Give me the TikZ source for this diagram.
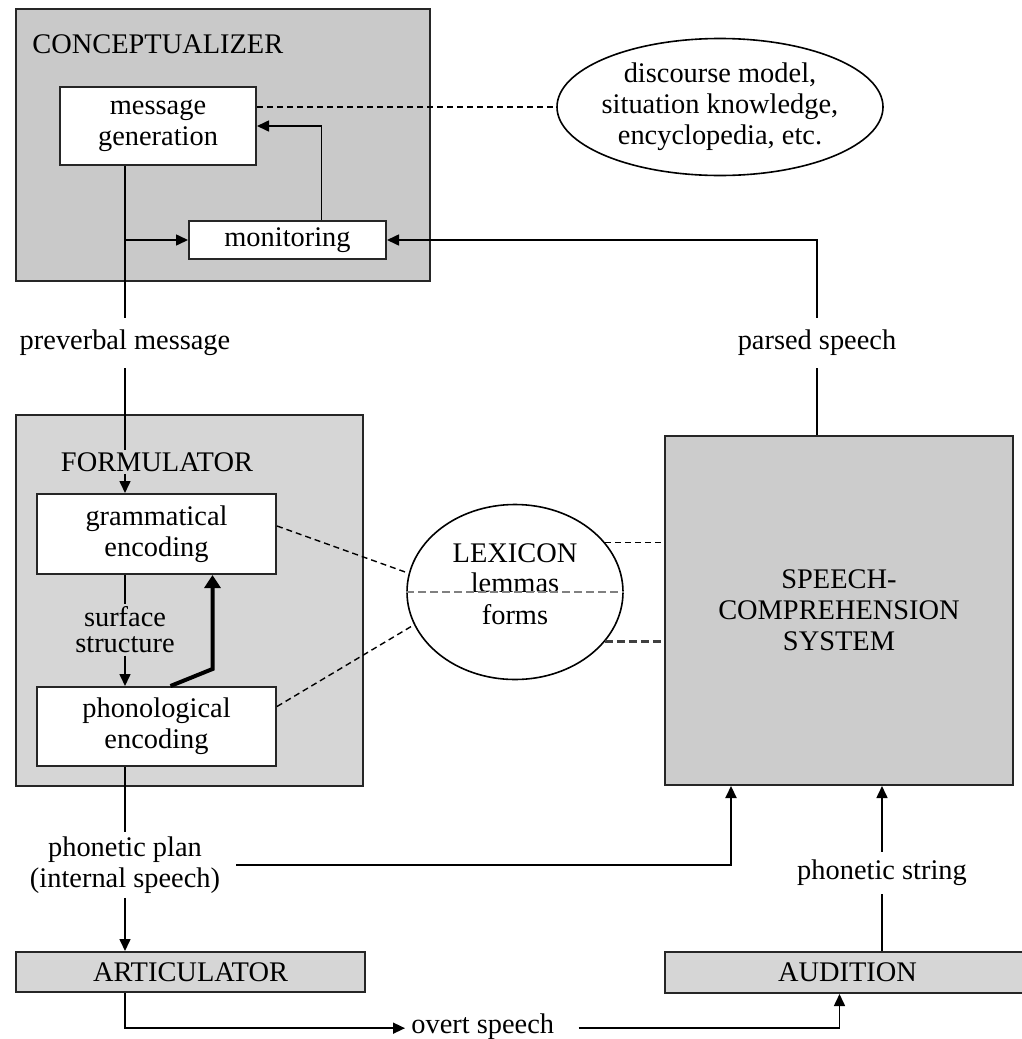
\documentclass[tikz,border=0pt]{standalone}
\usepackage{fontspec}
\setmainfont{Liberation Serif}
\usetikzlibrary{arrows.meta,shapes.geometric}

\begin{document}
\begin{tikzpicture}[x=0.5pt,y=-0.5pt]
        \tikzstyle{every node}=[font=\fontsize{14.2}{15.5}\selectfont, align=center];
        \tikzstyle{stagebox}=[draw=black!85, line width=1pt, rectangle];
        \tikzstyle{subbox}=[stagebox, fill=white];
        \tikzstyle{gaplabel}=[inner sep=1pt];
        \tikzstyle{link}=[line width=0.8pt];
        \tikzstyle{arr}=[link, -{Triangle[length=6pt,width=5.5pt]}];
        \tikzstyle{lexlink}=[line width=0.7pt, dash pattern=on 3pt off 2pt];
        \tikzstyle{lexlinkb}=[line width=1.4pt, dash pattern=on 4pt off 2pt];

        \useasboundingbox (0,0) rectangle (1022,1039);

        \node[stagebox, fill=black!21, minimum width=207pt, minimum height=136pt] (concept) at (223,145) {};
        \node[anchor=west, inner sep=0pt] (conceptlab) at (32,44) {CONCEPTUALIZER};
        \node[subbox, minimum width=98pt, minimum height=39pt] (msggen) at (158,126) {message\\generation};
        \node[subbox, minimum width=98.5pt, minimum height=19pt] (monitor) at (287.5,240) {monitoring};
        \node[draw, ellipse, line width=0.8pt, minimum width=163pt, minimum height=68.5pt, inner xsep=-3pt, inner ysep=2pt] (world) at (720,107) {discourse model,\\situation knowledge,\\encyclopedia, etc.};

        \node[inner sep=6pt] (preverbal) at (125,343) {preverbal message};
        \node[inner sep=6pt] (parsed) at (817,343) {parsed speech};

        \node[stagebox, fill=black!16, minimum width=173.5pt, minimum height=185.5pt] (formul) at (189.5,600.5) {};
        \node[gaplabel] (formlab) at (157,462) {FORMULATOR};
        \node[subbox, minimum width=119.5pt, minimum height=40pt] (gramenc) at (156.5,534) {grammatical\\encoding};
        \node[subbox, minimum width=119.5pt, minimum height=39.5pt] (phonenc) at (156.5,726.5) {phonological\\encoding};
        \node[gaplabel, font=\fontsize{14.2}{13}\selectfont] (surface) at (125,630) {surface\\structure};

        \node[draw, ellipse, line width=0.8pt, minimum width=108pt, minimum height=87.5pt, inner sep=0pt] (lex) at (515,592) {};
        \node (lexlab) at (515,553) {LEXICON};
        \node (lemmas) at (515,583) {lemmas};
        \node (forms) at (515,615) {forms};

        \node[stagebox, fill=black!20, minimum width=174pt, minimum height=174.5pt] (speech) at (839,610.5) {SPEECH-\\COMPREHENSION\\SYSTEM};

        \node[inner sep=2pt] (plan) at (125,865) {phonetic plan\\(internal speech)};
        \node[inner sep=4pt] (phonstr) at (882,873) {phonetic string};
        \node[stagebox, fill=black!16, minimum width=174.5pt, minimum height=20pt] (artic) at (190.5,972) {ARTICULATOR};
        \node[stagebox, fill=black!16, minimum width=182.5pt, minimum height=20.5pt] (audit) at (847.5,972.5) {AUDITION};
        \node[anchor=base west, inner sep=3pt] (overt) at (405,1033) {overt speech};

        \draw[link] (msggen.south -| preverbal) -- (preverbal.north);
        \draw[arr] (preverbal |- monitor.west) -- (monitor.west);
        \draw[arr] ([xshift=17pt]monitor.north) |- (msggen.east);
        \draw[lexlink] (msggen.east |- world.west) -- (world.west);
        \draw[arr] (parsed.north) |- (monitor.east);
        \draw[link, line width=1.1pt] (parsed.south) -- (parsed.south |- speech.north);

        \draw[link] (preverbal.south) -- (preverbal.south |- formlab.north);
        \draw[arr] (preverbal |- formlab.south) -- (preverbal |- gramenc.north);
        \draw[link] (preverbal |- gramenc.south) -- (surface.north);
        \draw[arr] (surface.south) -- (surface.south |- phonenc.north);
        \draw[line width=2pt, -{Triangle[length=6.5pt,width=8pt]}] ([xshift=7pt]phonenc.north) -- ([xshift=28pt,yshift=8.5pt]phonenc.north) -- ([xshift=28pt]gramenc.south);

        \draw[lexlink] ([yshift=4pt]gramenc.east) -- (lex.170);
        \draw[lexlink] ([yshift=10pt]phonenc.east) -- (lex.198);
        \draw[lexlinkb, black!50] (lex.west) -- (lex.east);
        \draw[lexlink] (lex.29) -- (lex.29 -| speech.west);
        \draw[lexlinkb, black!75] (lex.-29) -- (lex.-29 -| speech.west);

        \draw[link] (phonenc.south -| plan) -- (plan.north);
        \draw[arr] (plan.south) -- (plan.south |- artic.north);
        \draw[arr, line width=1.1pt] ([xshift=6pt]plan.east) -| ([xshift=-54pt]speech.south);
        \draw[link] (audit.north -| phonstr) -- (phonstr.south);
        \draw[arr] (phonstr.north) -- (phonstr.north |- speech.south);
        \draw[arr] (artic.south -| plan) |- ([yshift=-1pt]overt.west);
        \draw[arr] ([xshift=9pt,yshift=-1pt]overt.east) -| ([xshift=-4pt]audit.south);
\end{tikzpicture}
\end{document}
